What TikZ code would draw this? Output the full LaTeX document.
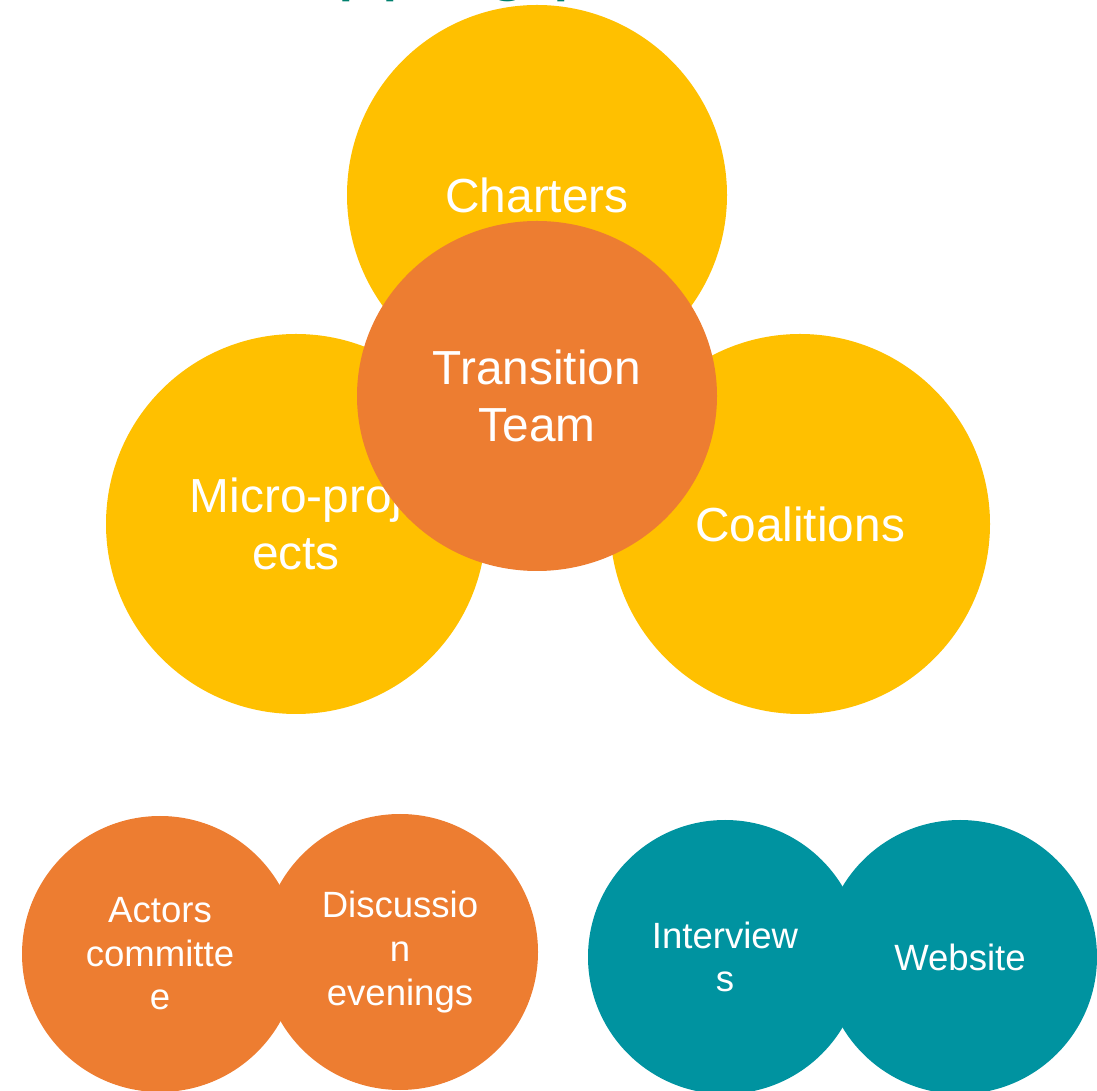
\documentclass[tikz,border=0pt]{standalone}
\usepackage{fontspec}
\setmainfont{Liberation Sans}
\usetikzlibrary{positioning}
\usetikzlibrary{shapes.geometric}
\definecolor{teamyellow}{HTML}{FFC000}
\definecolor{teamorange}{HTML}{ED7D31}
\definecolor{teamteal}{HTML}{0093A0}
\definecolor{titlegreen}{HTML}{00806E}
\begin{document}
\begin{tikzpicture}[
    bigcircle/.style={circle, fill=teamyellow, text=white, inner sep=0pt, minimum size=9.5cm, align=center, font=\fontsize{34}{40.5}\selectfont},
    smallcircle/.style={circle, text=white, inner sep=0pt, minimum size=6.9cm, align=center, font=\fontsize{26}{31}\selectfont}]
                \useasboundingbox (0,0) rectangle (27.425,27.25);

                % Title (cut off at the top edge)
                \node[anchor=base west, inner sep=0pt, text=titlegreen, font=\fontsize{56}{60}\selectfont] (title) at (5.7,27.6) {Mapping p};

                % Outer circles
                \node[bigcircle] (charters) at (13.425,22.375) {Charters};
                \node[bigcircle] (micro) at (7.4,14.15) {Micro-proj\\ects};
                \node[bigcircle] (coalitions) at (20.0,14.15) {Coalitions};

                % Centre
                \node[ellipse, fill=teamorange, text=white, inner sep=0pt, minimum width=9cm, minimum height=8.75cm, align=center, font=\fontsize{34}{40.5}\selectfont] (team) at (13.425,17.35) {Transition\\Team};

                % Bottom pairs
                \node[smallcircle, fill=teamorange, minimum size=6.9cm] (actors) at (4.0,3.4) {Actors\\committe\\e};
                \node[smallcircle, fill=teamorange, minimum size=6.9cm] (discussion) at (10.0,3.45) {Discussio\\n\\evenings};
                \node[smallcircle, fill=teamteal, minimum size=6.85cm] (interviews) at (18.125,3.325) {Interview\\s};
                \node[smallcircle, fill=teamteal, minimum size=6.85cm] (website) at (24.0,3.325) {Website};

\end{tikzpicture}
\end{document}
